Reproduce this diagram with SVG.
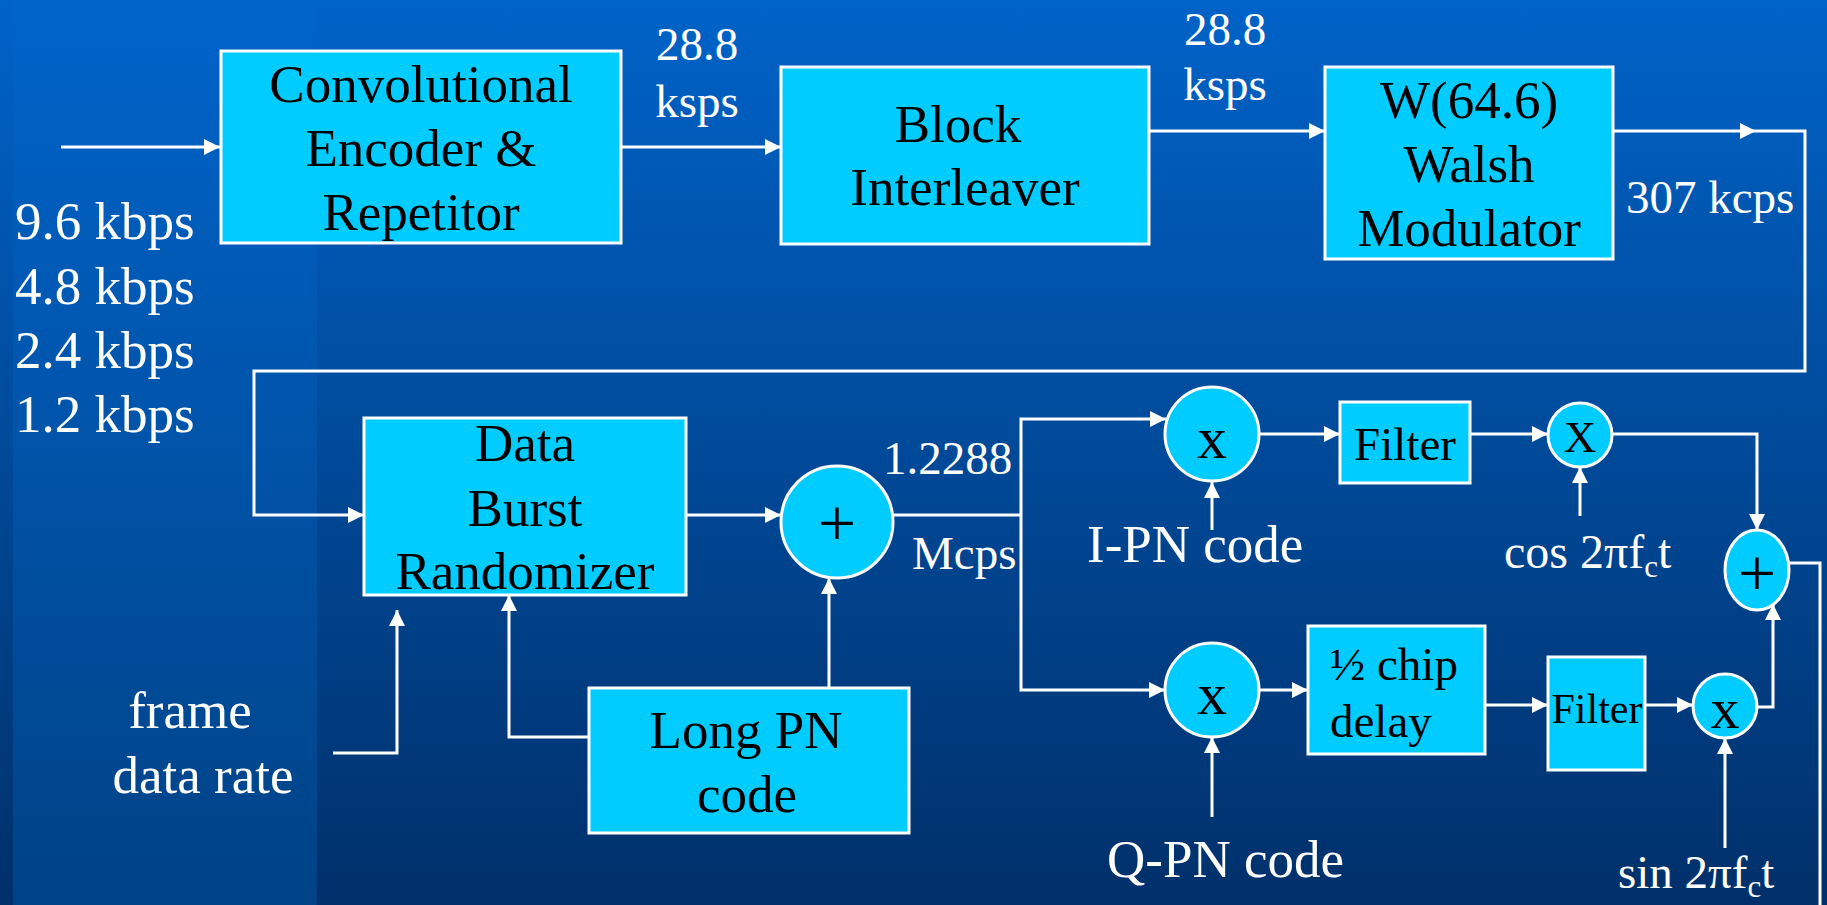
<svg xmlns="http://www.w3.org/2000/svg" width="1827" height="905" viewBox="0 0 1827 905">
<defs>
<linearGradient id="bg" x1="0" y1="0" x2="0" y2="1">
<stop offset="0" stop-color="#0063c8"/>
<stop offset="1" stop-color="#00306a"/>
</linearGradient>
<linearGradient id="strip" x1="0" y1="0" x2="0" y2="1">
<stop offset="0" stop-color="#0064ca"/>
<stop offset="1" stop-color="#004286"/>
</linearGradient>
<marker id="ah" viewBox="0 0 16 16" refX="16" refY="8" markerWidth="16" markerHeight="16" markerUnits="userSpaceOnUse" orient="auto">
<path d="M0,0 L16,8 L0,16 z" fill="#fff"/>
</marker>
<style>
.box{fill:#00ccff;stroke:#fff;stroke-width:3}
.t{font-family:"Liberation Serif","Times New Roman",serif;font-size:53px;fill:#000;text-anchor:middle}
.w{font-family:"Liberation Serif","Times New Roman",serif;font-size:53px;fill:#fff}
.s{font-size:47px}
.c{fill:none;stroke:#fff;stroke-width:3}
.a{fill:none;stroke:#fff;stroke-width:3;marker-end:url(#ah)}
</style>
</defs>
<rect width="1827" height="905" fill="url(#bg)"/>
<rect x="13" y="0" width="304" height="905" fill="url(#strip)"/>

<g id="connectors">
<path class="a" d="M61,147 H220"/>
<path class="a" d="M621,147 H781"/>
<path class="a" d="M1149,131 H1325"/>
<path class="a" d="M1613,131 H1756"/>
<path class="a" d="M1756,131 H1805 V371 H254 V515 H364"/>
<path class="a" d="M686,515 H781"/>
<path class="c" d="M893,515 H1021"/>
<path class="a" d="M1021,515 V419 H1166"/>
<path class="a" d="M1021,515 V690 H1165"/>
<path class="a" d="M829,688 V578"/>
<path class="a" d="M589,737 H509 V595"/>
<path class="a" d="M333,753 H397 V610"/>
<path class="a" d="M1259,434 H1340"/>
<path class="a" d="M1212,530 V482"/>
<path class="a" d="M1470,434 H1548"/>
<path class="a" d="M1580,516 V467"/>
<path class="a" d="M1612,434 H1757 V530"/>
<path class="a" d="M1259,690 H1308"/>
<path class="a" d="M1212,817 V737"/>
<path class="a" d="M1485,705 H1548"/>
<path class="a" d="M1645,705 H1693"/>
<path class="a" d="M1725,848 V738"/>
<path class="a" d="M1757,707 H1773 V604"/>
<path class="c" d="M1789,563 H1820 V910"/>
</g>

<g id="conv">
<rect class="box" x="221" y="51" width="400" height="192"/>
<text class="t" x="421" y="102">Convolutional</text>
<text class="t" x="421" y="166">Encoder &amp;</text>
<text class="t" x="421" y="230">Repetitor</text>
</g>
<g id="block">
<rect class="box" x="781" y="67" width="368" height="177"/>
<text class="t" x="958" y="142">Block</text>
<text class="t" x="965" y="205">Interleaver</text>
</g>
<g id="walsh">
<rect class="box" x="1325" y="67" width="288" height="192"/>
<text class="t" x="1469" y="118">W(64.6)</text>
<text class="t" x="1469" y="182">Walsh</text>
<text class="t" x="1469" y="246">Modulator</text>
</g>
<g id="databurst">
<rect class="box" x="364" y="418" width="322" height="177"/>
<text class="t" x="525" y="461">Data</text>
<text class="t" x="525" y="526">Burst</text>
<text class="t" x="525" y="589">Randomizer</text>
</g>
<g id="sum1">
<circle class="box" cx="837" cy="522" r="56"/>
<text class="t" x="837" y="546" style="font-size:68px">+</text>
</g>
<g id="longpn">
<rect class="box" x="589" y="688" width="320" height="145"/>
<text class="t" x="746" y="748">Long PN</text>
<text class="t" x="747" y="812">code</text>
</g>
<g id="mulI">
<circle class="box" cx="1212" cy="434" r="47"/>
<text class="t" x="1212" y="458" style="font-size:60px">x</text>
</g>
<g id="mulQ">
<circle class="box" cx="1212" cy="690" r="47"/>
<text class="t" x="1212" y="714" style="font-size:60px">x</text>
</g>
<g id="filterI">
<rect class="box" x="1340" y="402" width="130" height="81"/>
<text class="t" x="1405" y="460" style="font-size:47px">Filter</text>
</g>
<g id="mixI">
<circle class="box" cx="1580" cy="435" r="32"/>
<text class="t" x="1580" y="452" style="font-size:45px">X</text>
</g>
<g id="halfchip">
<rect class="box" x="1308" y="626" width="177" height="128"/>
<text class="t s" x="1330" y="680" style="text-anchor:start">½ chip</text>
<text class="t s" x="1330" y="737" style="text-anchor:start">delay</text>
</g>
<g id="filterQ">
<rect class="box" x="1548" y="657" width="97" height="113"/>
<text class="t" x="1597" y="723" style="font-size:42px">Filter</text>
</g>
<g id="mixQ">
<circle class="box" cx="1725" cy="706" r="32"/>
<text class="t" x="1725" y="728" style="font-size:58px">x</text>
</g>
<g id="sum2">
<ellipse class="box" cx="1757" cy="570" rx="32" ry="40"/>
<text class="t" x="1757" y="596" style="font-size:68px">+</text>
</g>

<g id="labels">
<text class="w s" x="697" y="60" text-anchor="middle">28.8</text>
<text class="w s" x="697" y="117" text-anchor="middle">ksps</text>
<text class="w s" x="1225" y="45" text-anchor="middle">28.8</text>
<text class="w s" x="1225" y="100" text-anchor="middle">ksps</text>
<text class="w s" x="1626" y="213">307 kcps</text>
<text class="w" x="15" y="239">9.6 kbps</text>
<text class="w" x="15" y="304">4.8 kbps</text>
<text class="w" x="15" y="368">2.4 kbps</text>
<text class="w" x="15" y="432">1.2 kbps</text>
<text class="w s" x="883" y="474">1.2288</text>
<text class="w s" x="912" y="569">Mcps</text>
<text class="w" x="1087" y="562">I-PN code</text>
<text class="w" x="1504" y="568" style="font-size:48px">cos 2πf<tspan dy="9" style="font-size:31px">c</tspan><tspan dy="-9">t</tspan></text>
<text class="w" x="1107" y="877">Q-PN code</text>
<text class="w" x="1618" y="888" style="font-size:47px">sin 2πf<tspan dy="9" style="font-size:31px">c</tspan><tspan dy="-9">t</tspan></text>
<text class="w" x="190" y="728" text-anchor="middle">frame</text>
<text class="w" x="203" y="793" text-anchor="middle">data rate</text>
</g>
</svg>
